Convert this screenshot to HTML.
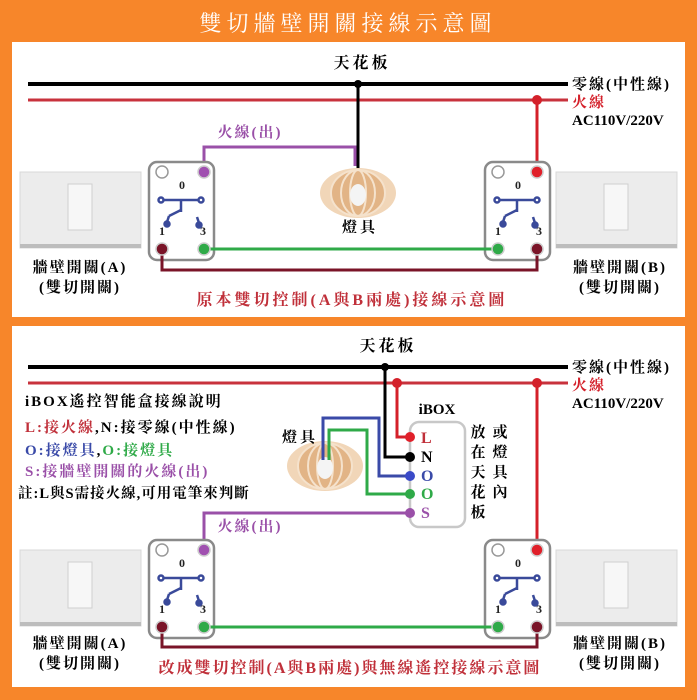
<!DOCTYPE html>
<html><head><meta charset="utf-8"><style>
html,body{margin:0;padding:0;background:#f7862a;}
svg{display:block}
text{font-family:"Liberation Serif","Noto Serif CJK SC","Noto Sans CJK TC",serif;}
</style></head><body>
<svg width="697" height="700" viewBox="0 0 697 700" xmlns="http://www.w3.org/2000/svg">
<defs>
<g id="sw">
 <rect x="0" y="0" width="65" height="98" rx="8" fill="#fff" stroke="#8a8a8a" stroke-width="2.5"/>
 <circle cx="13" cy="10" r="6" fill="#fff" stroke="#999" stroke-width="1.5"/>
 <text x="30" y="27" font-size="12" font-weight="bold" fill="#222">0</text>
 <text x="10" y="73" font-size="12" font-weight="bold" fill="#222">1</text>
 <text x="51" y="73" font-size="12" font-weight="bold" fill="#222">3</text>
 <g stroke="#3a4a9a" stroke-width="2.5" fill="#3a4a9a">
  <line x1="12" y1="38" x2="52" y2="38"/><line x1="32" y1="38" x2="32" y2="50"/>
  <line x1="32" y1="48" x2="20" y2="54"/><line x1="20" y1="54" x2="18" y2="60"/>
  <line x1="48" y1="55" x2="50" y2="61"/>
  <circle cx="12" cy="38" r="2.5" fill="#fff"/><circle cx="52" cy="38" r="2.5" fill="#fff"/>
  <circle cx="18" cy="62" r="2.5"/><circle cx="50" cy="63" r="2.5"/>
 </g>
</g>
<g id="plate">
 <rect x="0" y="0" width="121" height="76" fill="#ececec" stroke="#d8d8d8"/>
 <rect x="0" y="72" width="121" height="4" fill="#bdbdbd"/>
 <rect x="48" y="12" width="24" height="46" fill="#f7f7f7" stroke="#cfcfcf"/>
</g>
<g id="lamp">
 <ellipse cx="0" cy="0" rx="38" ry="25" fill="#f1d6b8"/>
 <ellipse cx="0" cy="0" rx="27" ry="23" fill="#e2b486"/>
 <g stroke="#f5e2cc" stroke-width="2" fill="none">
  <ellipse cx="0" cy="0" rx="8" ry="23"/><ellipse cx="0" cy="0" rx="17" ry="23"/><ellipse cx="0" cy="0" rx="27" ry="23"/>
 </g>
 <ellipse cx="0" cy="2" rx="8" ry="11" fill="#f4f4f4"/>
</g>
</defs>
<rect x="0" y="0" width="697" height="700" fill="#f7862a"/>
<text x="348" y="31" font-size="22" fill="#fff" text-anchor="middle" letter-spacing="5">雙切牆壁開關接線示意圖</text>
<rect x="12" y="42" width="673" height="275" fill="#fff"/>
<rect x="12" y="326" width="673" height="361" fill="#fff"/>

<!-- PANEL 1 -->
<text x="362" y="68" font-size="16" font-weight="bold" text-anchor="middle" letter-spacing="3">天花板</text>
<line x1="28" y1="84" x2="568" y2="84" stroke="#000" stroke-width="4"/>
<line x1="28" y1="100" x2="568" y2="100" stroke="#c8323c" stroke-width="3"/>
<text x="572" y="89" font-size="15" font-weight="bold" letter-spacing="2">零線(中性線)</text>
<text x="572" y="107" font-size="15" font-weight="bold" fill="#d4202a" letter-spacing="2">火線</text>
<text x="572" y="125" font-size="15" font-weight="bold">AC110V/220V</text>
<line x1="358" y1="84" x2="358" y2="170" stroke="#000" stroke-width="3"/>
<circle cx="358" cy="84" r="4"/>
<polyline points="204,165 204,147 355,147 355,166" fill="none" stroke="#9a50a8" stroke-width="3"/>
<text x="250" y="137" font-size="15" font-weight="bold" fill="#9a50a8" text-anchor="middle" letter-spacing="2">火線(出)</text>
<use href="#lamp" x="358" y="193"/>
<text x="360" y="232" font-size="15" font-weight="bold" text-anchor="middle" letter-spacing="3">燈具</text>
<line x1="537" y1="100" x2="537" y2="170" stroke="#d4202a" stroke-width="3"/>
<circle cx="537" cy="100" r="5" fill="#d4202a"/>
<use href="#plate" x="20" y="172"/>
<use href="#plate" x="556" y="172"/>
<use href="#sw" x="149" y="162"/>
<use href="#sw" x="485" y="162"/>
<polyline points="204,249 498,249" fill="none" stroke="#2faa48" stroke-width="3"/>
<polyline points="162,249 162,270 537,270 537,249" fill="none" stroke="#7a1428" stroke-width="3"/>
<circle cx="204" cy="172" r="6" fill="#a050b0" stroke="#ccc" stroke-width="1.5"/>
<circle cx="537" cy="172" r="6" fill="#e0202a" stroke="#ccc" stroke-width="1.5"/>
<circle cx="162" cy="249" r="6" fill="#7a1428" stroke="#ccc" stroke-width="1.5"/>
<circle cx="204" cy="249" r="6" fill="#2faa48" stroke="#ccc" stroke-width="1.5"/>
<circle cx="498" cy="249" r="6" fill="#2faa48" stroke="#ccc" stroke-width="1.5"/>
<circle cx="537" cy="249" r="6" fill="#7a1428" stroke="#ccc" stroke-width="1.5"/>
<g font-size="15" font-weight="bold" text-anchor="middle" letter-spacing="2">
<text x="80" y="272">牆壁開關(A)</text>
<text x="80" y="292">(雙切開關)</text>
<text x="620" y="272">牆壁開關(B)</text>
<text x="620" y="292">(雙切開關)</text>
</g>
<text x="352" y="305" font-size="16" font-weight="bold" fill="#c0303a" text-anchor="middle" letter-spacing="3">原本雙切控制(A與B兩處)接線示意圖</text>

<!-- PANEL 2 -->
<text x="388" y="351" font-size="16" font-weight="bold" text-anchor="middle" letter-spacing="3">天花板</text>
<line x1="28" y1="367" x2="568" y2="367" stroke="#000" stroke-width="4"/>
<line x1="28" y1="383" x2="568" y2="383" stroke="#c8323c" stroke-width="3"/>
<text x="572" y="372" font-size="15" font-weight="bold" letter-spacing="2">零線(中性線)</text>
<text x="572" y="390" font-size="15" font-weight="bold" fill="#d4202a" letter-spacing="2">火線</text>
<text x="572" y="408" font-size="15" font-weight="bold">AC110V/220V</text>
<rect x="410" y="422" width="55" height="105" rx="9" fill="#fff" stroke="#c8c8c8" stroke-width="2.5"/>
<text x="437" y="414" font-size="15" font-weight="bold" text-anchor="middle">iBOX</text>
<polyline points="385,367 385,457 410,457" fill="none" stroke="#000" stroke-width="3"/>
<polyline points="397,383 397,437 410,437" fill="none" stroke="#d4202a" stroke-width="3"/>
<circle cx="385" cy="367" r="4"/>
<circle cx="397" cy="383" r="5" fill="#d4202a"/>
<line x1="537" y1="383" x2="537" y2="550" stroke="#d4202a" stroke-width="3"/>
<circle cx="537" cy="383" r="5" fill="#d4202a"/>
<use href="#lamp" x="325" y="466"/>
<polyline points="323,460 323,418 379,418 379,476 410,476" fill="none" stroke="#3a4aa8" stroke-width="3"/>
<polyline points="329,460 329,430 367,430 367,494 410,494" fill="none" stroke="#2faa48" stroke-width="3"/>
<polyline points="204,545 204,513 410,513" fill="none" stroke="#9a50a8" stroke-width="3"/>
<circle cx="410" cy="437" r="5" fill="#e0202a"/>
<circle cx="410" cy="457" r="5" fill="#000"/>
<circle cx="410" cy="476" r="5" fill="#3a4ac8"/>
<circle cx="410" cy="494" r="5" fill="#2faa48"/>
<circle cx="410" cy="513" r="5" fill="#9a50a8"/>
<g font-size="16" font-weight="bold">
<text x="421" y="443" fill="#c0303a">L</text>
<text x="421" y="462">N</text>
<text x="421" y="481" fill="#3a4aa8">O</text>
<text x="421" y="499" fill="#2faa48">O</text>
<text x="421" y="518" fill="#9a50a8">S</text>
</g>
<g font-size="15" font-weight="bold" text-anchor="middle">
<text x="478" y="437">放</text><text x="478" y="457">在</text><text x="478" y="477">天</text><text x="478" y="497">花</text><text x="478" y="517">板</text>
<text x="500" y="437">或</text><text x="500" y="457">燈</text><text x="500" y="477">具</text><text x="500" y="497">內</text>
</g>
<text x="300" y="442" font-size="15" font-weight="bold" text-anchor="middle" letter-spacing="3">燈具</text>
<text x="250" y="531" font-size="15" font-weight="bold" fill="#9a50a8" text-anchor="middle" letter-spacing="2">火線(出)</text>
<g font-size="15" font-weight="bold" letter-spacing="2">
<text x="25" y="406">iBOX遙控智能盒接線說明</text>
<text x="25" y="432"><tspan fill="#c0303a">L:接火線</tspan>,N:接零線(中性線)</text>
<text x="25" y="455"><tspan fill="#3a4aa8">O:接燈具</tspan>,<tspan fill="#2faa48">O:接燈具</tspan></text>
<text x="25" y="476" fill="#9a50a8">S:接牆壁開關的火線(出)</text>
<text x="18" y="498" font-size="14.5" letter-spacing="1">註:L與S需接火線,可用電筆來判斷</text>
</g>
<use href="#plate" x="20" y="550"/>
<use href="#plate" x="556" y="550"/>
<use href="#sw" x="149" y="540"/>
<use href="#sw" x="485" y="540"/>
<polyline points="204,627 498,627" fill="none" stroke="#2faa48" stroke-width="3"/>
<polyline points="162,627 162,647 537,647 537,627" fill="none" stroke="#7a1428" stroke-width="3"/>
<circle cx="204" cy="550" r="6" fill="#a050b0" stroke="#ccc" stroke-width="1.5"/>
<circle cx="537" cy="550" r="6" fill="#e0202a" stroke="#ccc" stroke-width="1.5"/>
<circle cx="162" cy="627" r="6" fill="#7a1428" stroke="#ccc" stroke-width="1.5"/>
<circle cx="204" cy="627" r="6" fill="#2faa48" stroke="#ccc" stroke-width="1.5"/>
<circle cx="498" cy="627" r="6" fill="#2faa48" stroke="#ccc" stroke-width="1.5"/>
<circle cx="537" cy="627" r="6" fill="#7a1428" stroke="#ccc" stroke-width="1.5"/>
<g font-size="15" font-weight="bold" text-anchor="middle" letter-spacing="2">
<text x="80" y="648">牆壁開關(A)</text>
<text x="80" y="668">(雙切開關)</text>
<text x="620" y="648">牆壁開關(B)</text>
<text x="620" y="668">(雙切開關)</text>
</g>
<text x="350" y="673" font-size="16" font-weight="bold" fill="#c0303a" text-anchor="middle" letter-spacing="2">改成雙切控制(A與B兩處)與無線遙控接線示意圖</text>
</svg>
</body></html>
